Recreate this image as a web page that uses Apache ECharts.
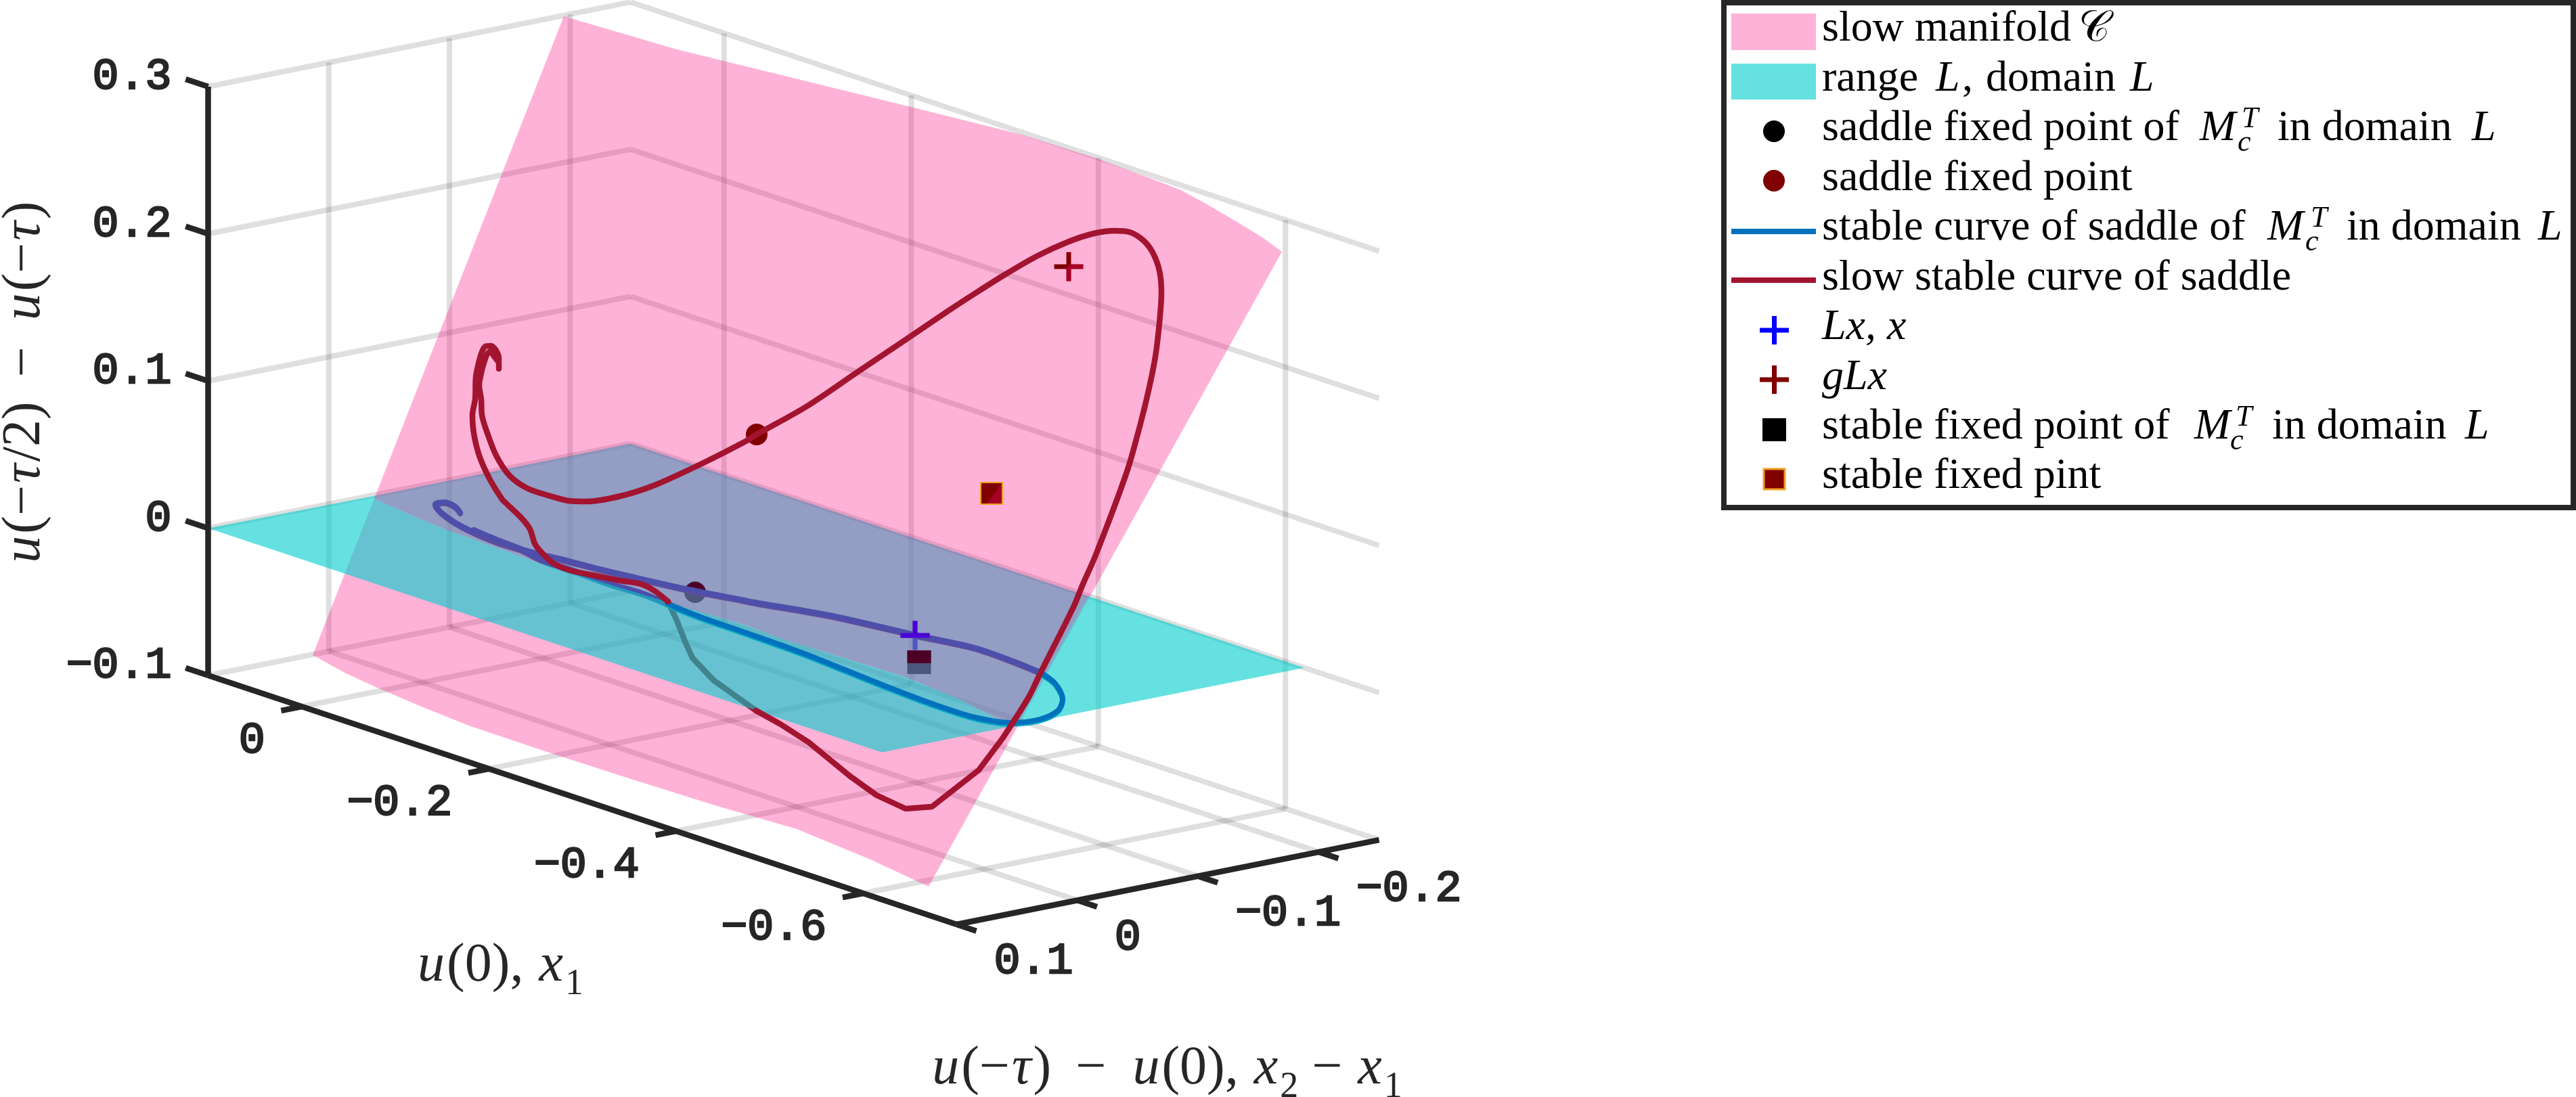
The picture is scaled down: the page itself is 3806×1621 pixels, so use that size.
<!DOCTYPE html>
<html>
<head>
<meta charset="utf-8">
<title>Slow manifold and stable curves</title>
<style>html,body{margin:0;padding:0;background:#fff}#main{width:3806px;height:1621px}</style>
<script src="https://cdn.jsdelivr.net/npm/echarts@6/dist/echarts.min.js"></script>
</head>
<body>
<div id="main"></div>
<script>
// Tick values of the three box axes.
const x1Ticks = [0, -0.2, -0.4, -0.6];
const x2Ticks = [0.1, 0, -0.1, -0.2];
const zTicks = [0.3, 0.2, 0.1, 0, -0.1];
const x1TickLabels = ['0', '\u22120.2', '\u22120.4', '\u22120.6'];
const x2TickLabels = ['0.1', '0', '\u22120.1', '\u22120.2'];
const zTickLabels = ['0.3', '0.2', '0.1', '0', '\u22120.1'];

// Box limits: x1 = u(0), x2 = u(-tau)-u(0), z = u(-tau/2)-u(-tau).
const x1Range = [-0.7, 0.1];
const x2Range = [-0.25, 0.1];
const zRange = [-0.1, 0.3];

// Linear section plane L, at z = 0.
const planeX1 = [-0.62, 0.1];
const planeX2 = [-0.25, 0.1];

// Curves and surface outlines as seen in the view plane of the fixed camera.
const manifoldTopEdge = [[833,24],[1000,73],[1342,157],[1510,199],[1620,234],[1701,264],[1745,281],[1780,300],[1831,330],[1864,350],[1894,372]];
const manifoldBottomEdge = [[1372,1310],[1286,1270],[1177,1225],[1056,1190],[935,1152],[814,1113],[692,1072],[620,1043],[559,1017],[511,995],[462,968]];
const planeCut = [[547,734],[600,758],[660,783],[800,833],[987,890],[1100,923],[1153,943],[1337,1000],[1420,1034],[1474,1062],[1503,1070]];
const planeCutRim = [[1608,881]];

const slowCurveUpper = [[735,533],[729,525],[725,519],[720,523],[717,530],[712,547],[708,570],[711,590],[712,613],[720,640],[733,673],[753,703],[780,722],[813,733],[840,740],[867,741],[917,733],[967,717],[1033,687],[1100,653],[1118,642],[1191,601],[1268,549],[1338,502],[1400,460],[1443,432],[1486,405],[1533,378],[1579,357],[1616,345],[1647,341],[1669,343],[1689,355],[1703,373],[1713,400],[1716,433],[1713,477],[1707,527],[1697,577],[1684,630],[1665,697],[1619,820],[1600,863],[1586,897],[1536,997],[1520,1030],[1482,1090]];
const slowCurveLower = [[1482,1090],[1446,1138],[1377,1192],[1338,1195],[1295,1175],[1256,1147],[1195,1097],[1153,1070],[1117,1050]];
const slowCurveBelowPlane = [[1117,1050],[1054,1005],[1023,972],[1013,950],[1000,917],[987,889]];
const slowCurveToSpiralOuter = [[987,889],[967,873],[947,863],[917,858],[877,850],[843,843],[817,832],[797,813],[790,803],[783,782],[770,765],[747,743],[742,738],[723,707],[708,673],[700,640],[698,613],[702,590],[703,557],[707,537],[712,520],[717,512],[725,511],[733,518],[737,530],[737,545]];

const stableCurveBehind = [[680,757],[672,748],[657,742],[643,745],[653,758],[683,778],[733,800],[783,815],[833,827],[883,840],[933,852],[1013,870],[1100,887],[1115,890],[1230,910],[1352,938],[1440,957],[1497,977],[1536,993]];
const stableCurveFront = [[1536,993],[1559,1010],[1570,1033],[1563,1050],[1536,1063],[1494,1068],[1440,1060],[1383,1042],[1306,1013],[1191,967],[1096,933],[1038,913],[1000,898],[987,892]];
const stableCurveReturn = [[987,892],[950,877],[900,862],[853,845],[800,827],[767,810],[733,797],[700,783]];

// Fixed points and iterates, view plane.
const saddleInDomain = [1027, 875];
const saddleFixedPoint = [1118, 642];
const stableInDomain = [1358, 979];
const stableFixedPoint = [1465, 729];
const pointLx = [1352, 939];
const pointGLx = [1579, 394];

const INK = '#262626', GRID = 'rgba(38,38,38,0.15)';
const PINK = 'rgba(255,0,125,0.3)', TEAL = 'rgba(0,205,205,0.6)';
const RED = '#A2142F', BLUE = '#0072BD', DARKRED = '#800000';
const SERIF = '"Liberation Serif"', MONO = '"Liberation Mono"';

// Orthographic camera of the 3D box.
function project(x1, x2, z) {
  const a = x1Range[1] - x1, b = x2Range[1] - x2, c = z - zRange[0];
  return [307.5 + a * 1382.5 + b * 1783, 998 + a * 460 - b * 357 - c * 2175];
}

const gridSegments = [];
x1Ticks.forEach(t => {
  gridSegments.push([project(t, x2Range[1], zRange[0]), project(t, x2Range[0], zRange[0])]);
  gridSegments.push([project(t, x2Range[0], zRange[0]), project(t, x2Range[0], zRange[1])]);
});
x2Ticks.forEach(t => {
  gridSegments.push([project(x1Range[1], t, zRange[0]), project(x1Range[0], t, zRange[0])]);
  if (t !== x2Range[1]) gridSegments.push([project(x1Range[1], t, zRange[0]), project(x1Range[1], t, zRange[1])]);
});
zTicks.forEach(t => {
  gridSegments.push([project(x1Range[1], x2Range[1], t), project(x1Range[1], x2Range[0], t)]);
  gridSegments.push([project(x1Range[1], x2Range[0], t), project(x1Range[0], x2Range[0], t)]);
});

const axisSegments = [
  [project(x1Range[1], x2Range[1], zRange[0]), project(x1Range[1], x2Range[1], zRange[1])],
  [project(x1Range[1], x2Range[1], zRange[0]), project(x1Range[0], x2Range[1], zRange[0])],
  [project(x1Range[0], x2Range[1], zRange[0]), project(x1Range[0], x2Range[0], zRange[0])]
];
x1Ticks.forEach(t => axisSegments.push([project(t, x2Range[1], zRange[0]), project(t, x2Range[1] + 0.017, zRange[0])]));
x2Ticks.forEach(t => axisSegments.push([project(x1Range[0], t, zRange[0]), project(x1Range[0] - 0.021, t, zRange[0])]));
zTicks.forEach(t => axisSegments.push([project(x1Range[1], x2Range[1], t), project(x1Range[1] + 0.024, x2Range[1], t)]));

const planeLeft = project(planeX1[1], planeX2[1], 0);
const planeBack = project(planeX1[1], planeX2[0], 0);
const planeRight = project(planeX1[0], planeX2[0], 0);
const planeFront = project(planeX1[0], planeX2[1], 0);
const tealBehind = [planeBack].concat(planeCutRim, planeCut.slice().reverse());
const tealInFront = [planeLeft].concat(planeCut, planeCutRim, [planeRight, planeFront]);
const manifold = manifoldTopEdge.concat(manifoldBottomEdge);

let order = 1;
function polygonSeries(points, color) {
  return {
    type: 'custom', coordinateSystem: 'cartesian2d', z: order++, silent: true,
    data: [0], clip: false,
    renderItem: (p, api) => ({
      type: 'polygon',
      shape: { points: points.map(q => api.coord(q)) },
      style: { fill: color, stroke: null }
    })
  };
}
function segmentSeries(segments, color, width, cap) {
  return {
    type: 'custom', coordinateSystem: 'cartesian2d', z: order++, silent: true,
    data: segments.map(s => [s[0][0], s[0][1], s[1][0], s[1][1]]), clip: false,
    renderItem: (p, api) => {
      const a = api.coord([api.value(0), api.value(1)]), b = api.coord([api.value(2), api.value(3)]);
      return { type: 'line', shape: { x1: a[0], y1: a[1], x2: b[0], y2: b[1] },
        style: { stroke: color, lineWidth: width, lineCap: cap || 'butt', fill: null } };
    }
  };
}
function curveSeries(name, points, color, width, edge, smooth) {
  const lineStyle = { color, width, cap: 'round', join: 'round', opacity: 1 };
  if (edge) Object.assign(lineStyle, { shadowColor: edge, shadowBlur: 0, shadowOffsetY: 2 });
  return { type: 'line', name, data: points, symbol: 'none', z: order++, silent: true, clip: false,
    smooth: smooth === undefined ? 0.3 : smooth, lineStyle, animation: false };
}
function markerSeries(at, draw) {
  return {
    type: 'custom', coordinateSystem: 'cartesian2d', z: order++, silent: true,
    data: [at], clip: false,
    renderItem: (p, api) => {
      const c = api.coord([api.value(0), api.value(1)]);
      return draw(c[0], c[1]);
    }
  };
}
const rect = (x, y, w, h, fill) => ({ type: 'rect', shape: { x, y, width: w, height: h }, style: { fill } });
const plusShape = (cx, cy, color, up) => ({ type: 'group', children: [
  rect(cx - 21.5, cy - 3.5, 43, 7, color),
  rect(cx - 3.5, cy - 21.5, 7, up ? 21.5 : 43, color)
] });

// Tick labels, aligned against their tick marks.
function tickLabelSeries(ticks, labels, toPoint, dx, dy, align) {
  return {
    type: 'custom', coordinateSystem: 'cartesian2d', z: 60, silent: true, clip: false,
    data: ticks.map((t, i) => { const q = toPoint(t); return [q[0], q[1], i]; }),
    renderItem: (p, api) => {
      const c = api.coord([api.value(0), api.value(1)]);
      return { type: 'text', x: c[0] + dx, y: c[1] + dy,
        style: { text: labels[api.value(2)], fontFamily: MONO, fontSize: 65, fill: INK, stroke: INK, lineWidth: 2.5, align, verticalAlign: 'middle' } };
    }
  };
}

const mathRich = {
  i: { fontFamily: SERIF, fontStyle: 'italic', fontSize: 80, lineHeight: 108, padding: [0, 3, 0, 3], fill: INK },
  r: { fontFamily: SERIF, fontSize: 80, lineHeight: 108, fill: INK },
  s: { fontFamily: SERIF, fontSize: 54, lineHeight: 54, verticalAlign: 'bottom', fill: INK }
};
const axisTitles = [
  { text: '{i|u}{r|(\u2212}{i|\u03C4}{r|/2) \u2009\u2212\u2009 }{i|u}{r|(\u2212}{i|\u03C4}{r|)}', at: [37, 566], rotation: Math.PI / 2 },
  { text: '{i|u}{r|(0), }{i|x}{s|1}', at: [738, 1428], rotation: 0 },
  { text: '{i|u}{r|(\u2212}{i|\u03C4}{r|) \u2009\u2212\u2009 }{i|u}{r|(0), }{i|x}{s|2}{r| \u2212 }{i|x}{s|1}', at: [1723, 1580], rotation: 0 }
];

const series = [
  segmentSeries(gridSegments, GRID, 8),
  // Parts of the markers that lie below the plane.
  markerSeries(saddleInDomain, (x, y) => ({ type: 'circle', shape: { cx: x, cy: y, r: 16 }, style: { fill: '#000' } })),
  markerSeries(stableInDomain, (x, y) => rect(x - 17.5, y - 18, 35, 35, '#000')),
  markerSeries(pointLx, (x, y) => plusShape(x, y, '#0000FF', false)),
  polygonSeries(tealBehind, TEAL),
  // Parts above the plane, still behind the manifold.
  markerSeries(saddleInDomain, (x, y) => ({ type: 'sector', shape: { cx: x, cy: y + 1, r: 16, r0: 0, startAngle: Math.PI, endAngle: 2 * Math.PI }, style: { fill: '#000' } })),
  markerSeries(stableInDomain, (x, y) => rect(x - 17.5, y - 18, 35, 19, '#000')),
  curveSeries('stable curve behind', stableCurveBehind, BLUE, 8, '#1E6FA8'),
  curveSeries('stable curve return', stableCurveReturn, BLUE, 8, '#1E6FA8'),
  markerSeries(pointLx, (x, y) => plusShape(x, y, '#0000FF', true)),
  polygonSeries(manifold, PINK),
  curveSeries('slow curve below plane', slowCurveBelowPlane, RED, 8.5, null, false),
  polygonSeries(tealInFront, TEAL),
  curveSeries('stable curve', stableCurveFront, BLUE, 8, '#00ABC8'),
  markerSeries(saddleFixedPoint, (x, y) => ({ type: 'circle', shape: { cx: x, cy: y, r: 16 }, style: { fill: DARKRED } })),
  curveSeries('slow stable curve', slowCurveUpper, RED, 8.5),
  curveSeries('slow stable curve lower', slowCurveLower, RED, 8.5, null, false),
  curveSeries('slow stable curve outer', slowCurveToSpiralOuter, RED, 8.5),
  markerSeries(pointGLx, (x, y) => ({ type: 'group', children: [
    plusShape(x, y, DARKRED, false),
    rect(x, y - 3.5, 21.5, 7, PINK),
    rect(x - 3.5, y, 7, 21.5, PINK)
  ] })),
  markerSeries(stableFixedPoint, (x, y) => ({ type: 'group', children: [
    rect(x - 17, y - 17, 34, 34, '#F0A020'),
    rect(x - 15, y - 15, 30, 30, DARKRED),
    { type: 'polygon', shape: { points: [[x + 15, y - 15], [x + 15, y + 15], [x - 6, y + 15]] }, style: { fill: PINK } }
  ] })),
  segmentSeries(axisSegments, INK, 8.5, 'butt'),
  tickLabelSeries(zTicks, zTickLabels, t => project(x1Range[1], x2Range[1], t), -54, -14, 'right'),
  tickLabelSeries(x1Ticks, x1TickLabels, t => project(t, x2Range[1], zRange[0]), -54, 51, 'right'),
  tickLabelSeries(x2Ticks, x2TickLabels, t => project(x1Range[0], t, zRange[0]), 55, 55, 'left'),
  {
    type: 'custom', coordinateSystem: 'cartesian2d', z: 61, silent: true, clip: false,
    data: axisTitles.map((t, i) => [t.at[0], t.at[1], i]),
    renderItem: (p, api) => {
      const c = api.coord([api.value(0), api.value(1)]), t = axisTitles[api.value(2)];
      return { type: 'text', x: c[0], y: c[1], rotation: t.rotation,
        style: { text: t.text, rich: mathRich, align: 'center', verticalAlign: 'middle' } };
    }
  }
];

// Legend, built from text runs so that math symbols can sit beside roman words.
const legendBaselines = [61, 135, 208, 282, 355, 429, 502, 576, 649, 722];
const run = (text, x, y, italic, size) => ({
  type: 'text', x, y: y - (size || 64) * 0.34 + 4, z: 100,
  style: { text, fontFamily: SERIF, fontSize: size || 64, fontStyle: italic ? 'italic' : 'normal', fill: '#000', verticalAlign: 'middle' }
});
const mathM = (row, xM, xSup, xSub) => [
  run('M', xM, legendBaselines[row], true),
  run('T', xSup, legendBaselines[row] - 21, true, 44),
  run('c', xSub, legendBaselines[row] + 14, true, 44)
];
const legendElements = [
  { type: 'rect', z: 99, shape: { x: 2547, y: 4, width: 1255, height: 746 }, style: { fill: '#fff', stroke: INK, lineWidth: 8 } },
  { type: 'rect', z: 100, shape: { x: 2558, y: 20, width: 125, height: 54 }, style: { fill: PINK } },
  { type: 'rect', z: 100, shape: { x: 2558, y: 94, width: 125, height: 53 }, style: { fill: TEAL } },
  { type: 'circle', z: 100, shape: { cx: 2621, cy: 194, r: 16 }, style: { fill: '#000' } },
  { type: 'circle', z: 100, shape: { cx: 2621, cy: 267, r: 16 }, style: { fill: DARKRED } },
  { type: 'rect', z: 100, shape: { x: 2558, y: 338, width: 125, height: 8 }, style: { fill: BLUE } },
  { type: 'rect', z: 100, shape: { x: 2558, y: 410, width: 125, height: 8 }, style: { fill: RED } },
  { type: 'rect', z: 100, shape: { x: 2600, y: 484.5, width: 43, height: 7 }, style: { fill: '#0000FF' } },
  { type: 'rect', z: 100, shape: { x: 2618, y: 467, width: 7, height: 42 }, style: { fill: '#0000FF' } },
  { type: 'rect', z: 100, shape: { x: 2600, y: 557.5, width: 43, height: 7 }, style: { fill: DARKRED } },
  { type: 'rect', z: 100, shape: { x: 2618, y: 540, width: 7, height: 42 }, style: { fill: DARKRED } },
  { type: 'rect', z: 100, shape: { x: 2604, y: 618, width: 35, height: 34 }, style: { fill: '#000' } },
  { type: 'rect', z: 100, shape: { x: 2606, y: 693, width: 31, height: 30 }, style: { fill: DARKRED, stroke: '#F0A020', lineWidth: 3 } },
  run('slow manifold', 2692, legendBaselines[0]),
  run('\uD835\uDC9E', 3071, legendBaselines[0], false),
  run('range', 2692, legendBaselines[1]),
  run('L', 2860, legendBaselines[1], true),
  run(',', 2899, legendBaselines[1]),
  run('domain', 2934, legendBaselines[1]),
  run('L', 3147, legendBaselines[1], true),
  run('saddle fixed point of', 2692, legendBaselines[2]),
  ...mathM(2, 3250, 3312, 3306),
  run('in domain', 3365, legendBaselines[2]),
  run('L', 3652, legendBaselines[2], true),
  run('saddle fixed point', 2692, legendBaselines[3]),
  run('stable curve of saddle of', 2692, legendBaselines[4]),
  ...mathM(4, 3350, 3414, 3406),
  run('in domain', 3467, legendBaselines[4]),
  run('L', 3750, legendBaselines[4], true),
  run('slow stable curve of saddle', 2692, legendBaselines[5]),
  run('Lx, x', 2692, legendBaselines[6], true),
  run('gLx', 2692, legendBaselines[7], true),
  run('stable fixed point of', 2692, legendBaselines[8]),
  ...mathM(8, 3242, 3303, 3295),
  run('in domain', 3357, legendBaselines[8]),
  run('L', 3642, legendBaselines[8], true),
  run('stable fixed pint', 2692, legendBaselines[9])
];

const chart = echarts.init(document.getElementById('main'), null, { renderer: 'canvas', width: 3806, height: 1621 });
chart.setOption({
  animation: false,
  backgroundColor: '#fff',
  grid: { left: 0, right: 0, top: 0, bottom: 0, containLabel: false },
  xAxis: { type: 'value', min: 0, max: 3806, show: false },
  yAxis: { type: 'value', min: 0, max: 1621, inverse: true, show: false },
  tooltip: { show: false },
  series,
  graphic: { elements: legendElements }
});
</script>
</body>
</html>
